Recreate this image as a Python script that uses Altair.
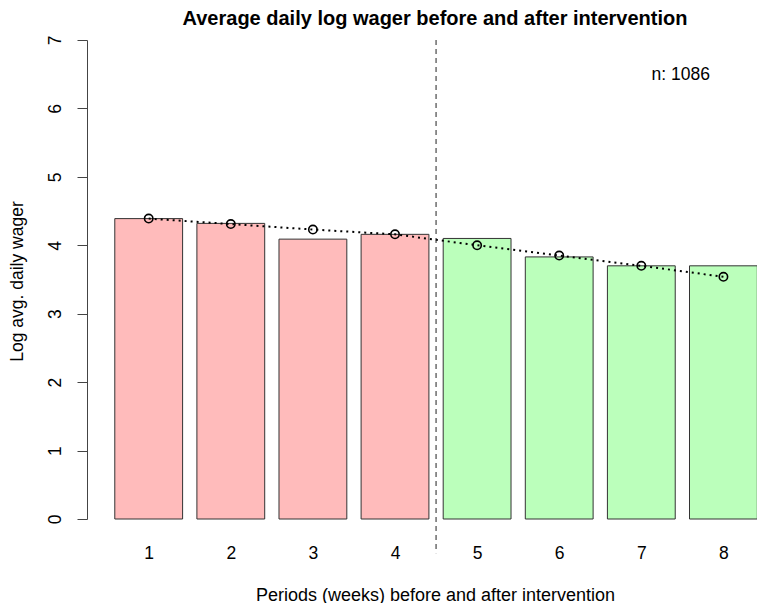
import altair as alt
import pandas as pd

periods = [1, 2, 3, 4, 5, 6, 7, 8]
bar_values = [4.39, 4.32, 4.09, 4.16, 4.10, 3.83, 3.70, 3.70]
line_values = [4.39, 4.31, 4.23, 4.16, 4.00, 3.85, 3.70, 3.54]
groups = ["before", "before", "before", "before", "after", "after", "after", "after"]
y_ticks = [0, 1, 2, 3, 4, 5, 6, 7]
n_label = "n: 1086"
title = "Average daily log wager before and after intervention"
x_title = "Periods (weeks) before and after intervention"
y_title = "Log avg. daily wager"

df = pd.DataFrame({"period": periods, "bar": bar_values, "line": line_values, "group": groups})

FONT = "Liberation Sans"
W, H = 670, 479
half = 0.413

xs = alt.Scale(domain=[0.2485, 8.409], nice=False, zero=False)
ys = alt.Scale(domain=[0, 7], nice=False, zero=True)

x_axis = alt.Axis(values=periods, format="d", domain=False, ticks=False, tickSize=0, grid=False,
                  labelFont=FONT, labelFontSize=17.5, labelColor="black",
                  labelBaseline="middle", labelPadding=34, labelAngle=0,
                  title=x_title, titleFont=FONT, titleFontSize=18, titleFontWeight="normal",
                  titleColor="black", titleY=76, titleBaseline="middle", titleX=348)
y_axis = alt.Axis(values=y_ticks, format="d", grid=False, domain=True, domainColor="#444",
                  ticks=True, tickSize=10, tickColor="#444", labelAngle=270,
                  labelAlign="center", labelBaseline="alphabetic", labelPadding=17,
                  labelFont=FONT, labelFontSize=17.5, labelColor="black",
                  title=y_title, titleFont=FONT, titleFontSize=17.5, titleFontWeight="normal",
                  titleColor="black", titleX=-70, titleY=241, titleAngle=270,
                  titleAlign="center", titleBaseline="middle")

base = alt.Chart(df)

bars = base.transform_calculate(
    xl=f"datum.period - {half}", xr=f"datum.period + {half}", y0="0"
).mark_rect(stroke="#333", strokeWidth=1).encode(
    x=alt.X("xl:Q", scale=xs, axis=x_axis),
    x2="xr:Q",
    y=alt.Y("y0:Q", scale=ys, axis=y_axis),
    y2="bar:Q",
    fill=alt.Fill("group:N", scale=alt.Scale(domain=["before", "after"], range=["#FFBBBB", "#BBFFBB"]), legend=None),
)

line = base.mark_line(color="black", strokeWidth=2, strokeDash=[2, 4]).encode(
    x=alt.X("period:Q", scale=xs), y=alt.Y("line:Q", scale=ys)
)
points = base.mark_point(color="black", filled=False, size=70, strokeWidth=1.6, opacity=1).encode(
    x=alt.X("period:Q", scale=xs), y=alt.Y("line:Q", scale=ys)
)

rule_df = pd.DataFrame({"x": [4.5], "y": [7.0], "y2": [-0.5]})
rule = alt.Chart(rule_df).mark_rule(color="#222", strokeWidth=1, strokeDash=[5, 4]).encode(
    x=alt.X("x:Q", scale=xs), y=alt.Y("y:Q", scale=ys), y2="y2:Q"
)

text_df = pd.DataFrame({"x": [7.48], "y": [6.49], "t": [n_label]})
txt = alt.Chart(text_df).mark_text(font=FONT, fontSize=17.5, color="black", align="center", baseline="middle").encode(
    x=alt.X("x:Q", scale=xs), y=alt.Y("y:Q", scale=ys), text="t:N"
)

title_df = pd.DataFrame({"t": [title]})
title_mark = alt.Chart(title_df).mark_text(font=FONT, fontSize=20, fontWeight="bold", color="black",
                                           align="center", baseline="alphabetic").encode(
    x=alt.value(348), y=alt.value(-15), text="t:N"
)

chart = alt.layer(bars, line, points, rule, txt, title_mark).properties(
    width=W, height=H,
    background="white",
    padding={"left": 79, "top": 32, "right": 0, "bottom": 84},
    autosize=alt.AutoSizeParams(type="none"),
).configure_view(stroke=None, strokeWidth=0)

chart.save("out.html", embed_options={"renderer": "svg", "actions": False})
